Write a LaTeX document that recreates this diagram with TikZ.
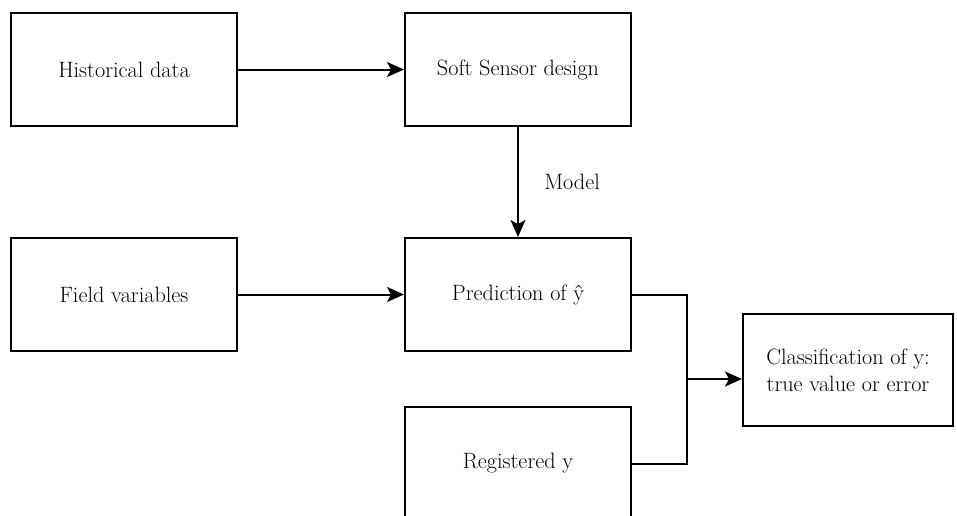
\documentclass[tikz,border=0pt]{standalone}
\usepackage{fontspec}
\setmainfont{Latin Modern Roman}
\usetikzlibrary{arrows.meta}
\begin{document}
\begin{tikzpicture}[x=1pt,y=-1pt,
  lbl/.style={font=\rmfamily\fontsize{22.2}{27}\selectfont},
  box/.style={lbl, draw=black, line width=2pt, minimum width=226pt, minimum height=113pt,
    inner sep=0pt, align=center},
  wideb/.style={box, minimum width=210pt, minimum height=112pt},
  conn/.style={line width=2pt, -{Stealth[length=17pt,width=15pt,inset=4pt]}},
  plain/.style={line width=2pt}]
  \useasboundingbox (0,0) rectangle (957,515);
  \node[box] (hist) at (124,69.5) {Historical data};
  \node[box] (soft) at (518,69.5) {Soft Sensor design};
  \node[box] (field) at (124,294.5) {Field variables};
  \node[box] (pred) at (518,294.5) {Prediction of ŷ};
  \node[box] (reg) at (518,463.5) {Registered y};
  \node[wideb] (cls) at (848,370) {Classification of y:\\true value or error};
  \coordinate (j) at (687,379);
  \draw[conn] (hist) -- (soft);
  \draw[conn] (soft) -- node[right=22pt, lbl] (mlab) {Model} (pred);
  \draw[conn] (field) -- (pred);
  \draw[plain] (pred.east) -| (j);
  \draw[plain] (reg.east) -| (j);
  \draw[conn] (j) -- (j -| cls.west);
\end{tikzpicture}
\end{document}
